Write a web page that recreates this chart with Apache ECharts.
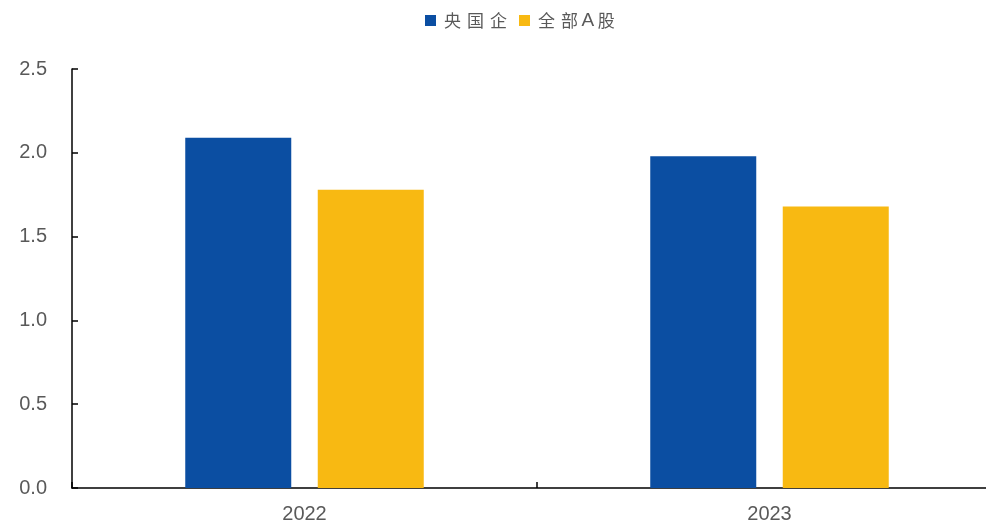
<!DOCTYPE html>
<html>
<head>
<meta charset="utf-8">
<script src="https://cdn.jsdelivr.net/npm/echarts@6/dist/echarts.min.js"></script>
<style>
  html, body { margin: 0; padding: 0; background: #fff; overflow: hidden; }
  /* the category axis runs a little past the right edge of the window */
  #chart { width: 1003px; height: 524px; }
</style>
</head>
<body>
<div id="chart"></div>
<script>
// Years on the category axis
const years = ['2022', '2023'];
// Series values
const soeValues = [2.09, 1.98];
const allAValues = [1.78, 1.68];
// Series names
const seriesNames = ['央国企', '全部A股'];

const chart = echarts.init(document.getElementById('chart'), null, { renderer: 'canvas' });

const labelColor = '#595959';
const axisColor = '#000';
const latinFont = '"Liberation Sans", Arial, sans-serif';
const cjkFont = '"Noto Sans CJK SC", "Liberation Sans", sans-serif';

// Legend names are spread out character by character
const spreadName = name => name.split('').map(ch =>
  (/[A-Za-z0-9]/.test(ch) ? '{l|' : '{c|') + ch + '}').join('');

chart.setOption({
  animation: false,
  backgroundColor: '#fff',
  legend: {
    top: 11,
    left: 425,
    padding: 0,
    itemWidth: 11,
    itemHeight: 11,
    itemGap: 12,
    icon: 'rect',
    formatter: spreadName,
    textStyle: {
      color: labelColor,
      fontSize: 17,
      fontFamily: cjkFont,
      rich: {
        c: {
          color: labelColor,
          fontSize: 17,
          fontFamily: cjkFont,
          padding: [0, 3, 0, 3]
        },
        l: {
          color: labelColor,
          fontSize: 19,
          fontFamily: latinFont,
          padding: [0, 0.5, 0, 0.5]
        }
      }
    },
    data: seriesNames
  },
  grid: {
    left: 72,
    right: 1,
    top: 69,
    bottom: 35,
    containLabel: false
  },
  xAxis: {
    type: 'category',
    data: years,
    axisLine: { show: true, lineStyle: { color: axisColor, width: 1.5 } },
    axisTick: { show: true, inside: true, length: 6, lineStyle: { color: axisColor, width: 1.5 } },
    axisLabel: {
      color: labelColor,
      fontSize: 20,
      margin: 16,
      fontFamily: latinFont
    },
    splitLine: { show: false }
  },
  yAxis: {
    type: 'value',
    min: 0,
    max: 2.5,
    interval: 0.5,
    axisLine: { show: true, lineStyle: { color: axisColor, width: 1.5 } },
    axisTick: { show: true, inside: true, length: 6, lineStyle: { color: axisColor, width: 1.5 } },
    axisLabel: {
      color: labelColor,
      fontSize: 20,
      margin: 25,
      fontFamily: latinFont,
      formatter: v => v.toFixed(1)
    },
    splitLine: { show: false }
  },
  series: [
    {
      name: seriesNames[0],
      type: 'bar',
      data: soeValues,
      barWidth: 106,
      barGap: '25%',
      itemStyle: { color: '#0B4EA2' }
    },
    {
      name: seriesNames[1],
      type: 'bar',
      data: allAValues,
      barWidth: 106,
      itemStyle: { color: '#F8B912' }
    }
  ]
});
</script>
</body>
</html>
